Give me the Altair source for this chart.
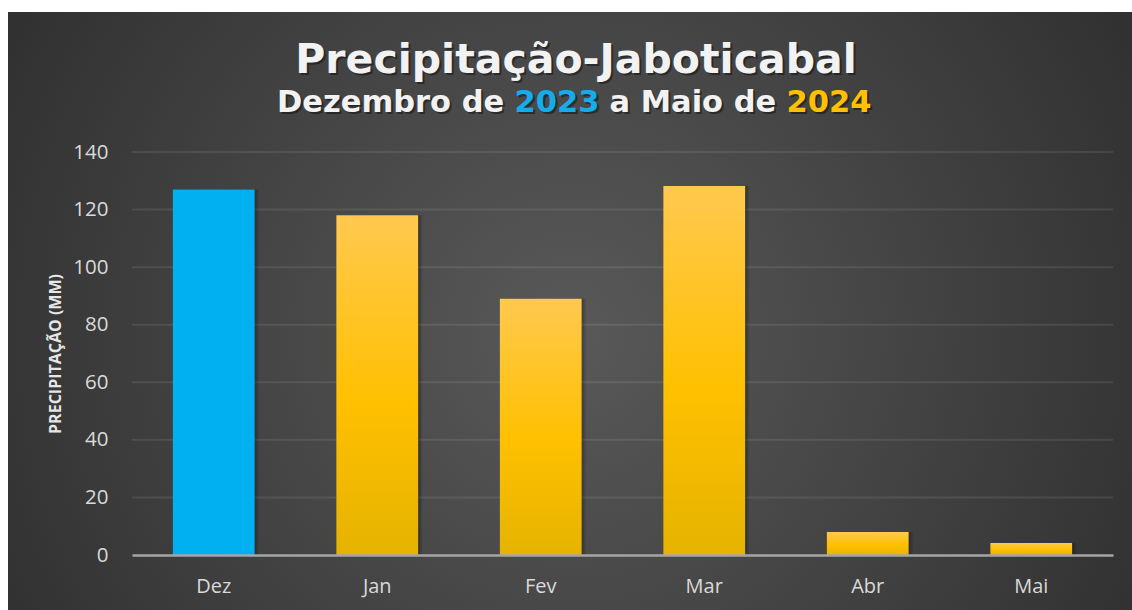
import altair as alt
import pandas as pd

# ---- data ----
MONTHS = ["Dez", "Jan", "Fev", "Mar", "Abr", "Mai"]
PRECIP = [127.0, 118.0, 89.0, 128.2, 8.0, 4.2]
YEAR_GROUP = ["2023", "2024", "2024", "2024", "2024", "2024"]
Y_TICKS = [0, 20, 40, 60, 80, 100, 120, 140]

TITLE = "Precipitação-Jaboticabal"
SUB_PARTS = ["Dezembro de", "2023", "a Maio de", "2024"]
SUB_COLORS = ["#F2F2F2", "#14ACEA", "#F2F2F2", "#FFC000"]
Y_TITLE = "PRECIPITAÇÃO (MM)"

W, H = 981, 403
PAD_L, PAD_T, PAD_R, PAD_B = 132, 152, 19, 55

df = pd.DataFrame({"mes": MONTHS, "valor": PRECIP, "ano": YEAR_GROUP})
grid_df = pd.DataFrame({"v": Y_TICKS[1:]})
one = pd.DataFrame({"k": [0]})

xenc = alt.X("mes:N", sort=MONTHS, title=None,
             scale=alt.Scale(paddingInner=0.5, paddingOuter=0.25),
             axis=alt.Axis(labelAngle=0, labelFont="Open Sans", labelFontSize=20,
                           labelColor="#D9D9D9", labelPadding=21, ticks=False,
                           domain=True, domainColor="#A6A6A6", domainWidth=2.5,
                           grid=False, zindex=1))
yscale = alt.Scale(domain=[0, 140], nice=False)
yenc = alt.Y("valor:Q", scale=yscale, title=Y_TITLE,
             axis=alt.Axis(values=Y_TICKS, labelFont="Open Sans", labelFontSize=20.5,
                           labelColor="#D9D9D9", labelPadding=24, ticks=False,
                           domain=False, grid=False, zindex=1,
                           titleFont="Open Sans", titleFontSize=16, titleFontWeight="bold",
                           titleColor="#E6E6E6", titlePadding=9))

bg = alt.Chart(one).mark_rect(
    fill=alt.RadialGradient(gradient="radial", x1=0.5, y1=0.52, r1=0, x2=0.5, y2=0.52, r2=0.72,
                            stops=[alt.GradientStop(offset=0, color="#595959"),
                                   alt.GradientStop(offset=1, color="#262626")])
).encode(x=alt.value(8 - PAD_L), x2=alt.value(1132 - PAD_L),
         y=alt.value(12 - PAD_T), y2=alt.value(610 - PAD_T))

grid = alt.Chart(grid_df).mark_rule(color="#FFFFFF", opacity=0.09, strokeWidth=2).encode(
    y=alt.Y("v:Q", scale=yscale), x=alt.value(0), x2=alt.value(W))

shadow1 = alt.Chart(df).mark_bar(color="#000000", opacity=0.12, xOffset=4).encode(x=xenc, y=yenc)
shadow2 = alt.Chart(df).mark_bar(color="#000000", opacity=0.15, xOffset=2).encode(x=xenc, y=yenc)

blue = alt.Chart(df).transform_filter(alt.datum.ano == "2023").mark_bar(color="#00B0F0").encode(
    x=xenc, y=yenc)

yellow = alt.Chart(df).transform_filter(alt.datum.ano == "2024").mark_bar(
    color=alt.LinearGradient(gradient="linear", x1=0, y1=0, x2=0, y2=1,
                             stops=[alt.GradientStop(offset=0, color="#FFC94F"),
                                    alt.GradientStop(offset=0.55, color="#FFC000"),
                                    alt.GradientStop(offset=1, color="#E5B300")])
).encode(x=xenc, y=yenc)

def txt(text, x, y, size, color, align="center", dx=0, dy=0, opacity=1.0):
    return alt.Chart(one).mark_text(
        text=text, font="DejaVu Sans", fontWeight="bold", fontSize=size, color=color,
        align=align, baseline="alphabetic", dx=dx, dy=dy, opacity=opacity
    ).encode(x=alt.value(x), y=alt.value(y))

title_layers = [
    txt(TITLE, 444, -79, 41, "#000000", dx=2, dy=2, opacity=0.4),
    txt(TITLE, 444, -79, 41, "#F2F2F2"),
]
sub_x = [277 - PAD_L, 514.5 - PAD_L, 609.5 - PAD_L, 786.5 - PAD_L]
for part, col, sx in zip(SUB_PARTS, SUB_COLORS, sub_x):
    title_layers.append(txt(part, sx, -40, 30.5, "#000000", align="left", dx=2, dy=2, opacity=0.4))
    title_layers.append(txt(part, sx, -40, 30.5, col, align="left"))

chart = alt.layer(bg, grid, shadow1, shadow2, blue, yellow, *title_layers).properties(
    width=W, height=H,
    padding={"left": PAD_L, "top": PAD_T, "right": PAD_R, "bottom": PAD_B},
    autosize=alt.AutoSizeParams(type="none"),
    background="#FFFFFF",
).configure_view(stroke=None)

chart.save("out.html", embed_options={"renderer": "svg", "actions": False})
